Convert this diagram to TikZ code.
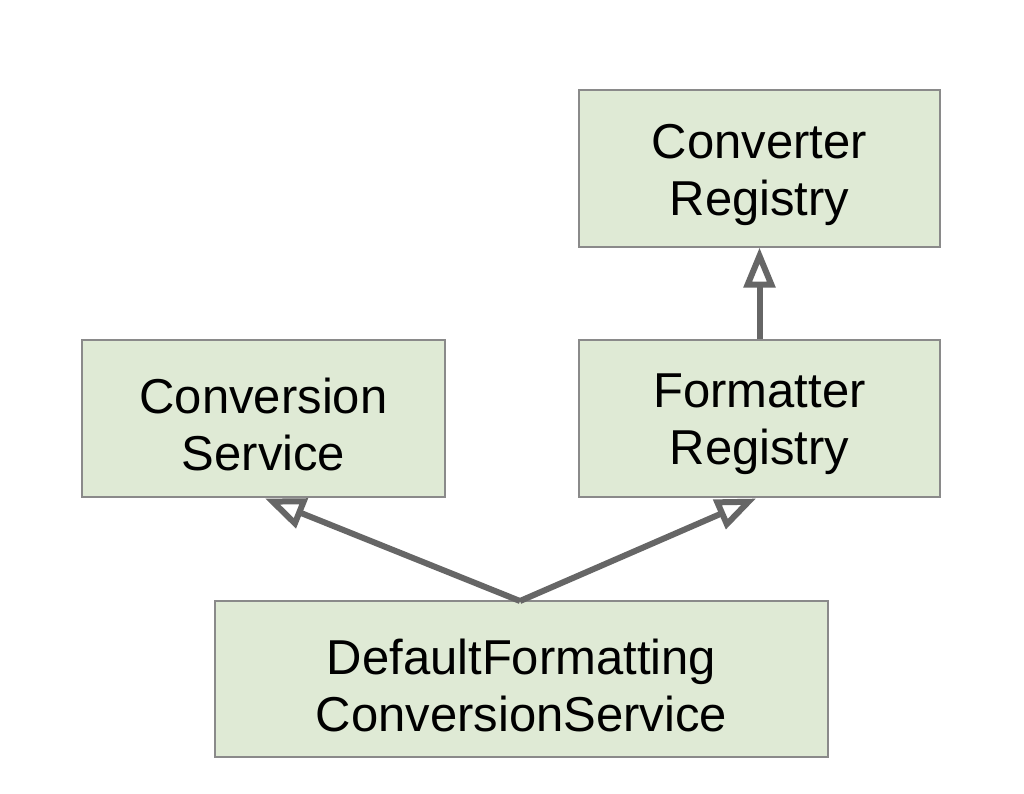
\documentclass[tikz,border=0pt]{standalone}
\usepackage{fontspec}
\setmainfont{Liberation Sans}
\usetikzlibrary{arrows.meta}
\definecolor{boxfill}{HTML}{DFEAD5}
\definecolor{boxline}{HTML}{8A8A8A}
\definecolor{arr}{HTML}{666666}
\tikzset{
  cls/.style={draw=boxline, line width=1.3pt, fill=boxfill, inner sep=0pt},
  txt/.style={label={[align=center, inner sep=0pt, yshift=-6pt, font=\fontsize{49}{57}\selectfont]center:#1}},
  inh/.style={draw=arr, line width=6pt, -{Triangle[open, length=40pt, width=31pt, line width=6pt, fill=white]}}
}
\begin{document}
\begin{tikzpicture}[x=1pt,y=-1pt]
\useasboundingbox (0,0) rectangle (1024,794);
\node[cls, minimum width=361pt, minimum height=157pt, txt={Converter\\Registry}] (cr) at (759.5,168.5) {};
\node[cls, minimum width=363pt, minimum height=157pt, txt={Conversion\\Service}] (cs) at (263.5,418.5) {};
\node[cls, minimum width=361pt, minimum height=157pt, txt={Formatter\\Registry}] (fr) at (759.5,418.5) {};
\node[cls, minimum width=613pt, minimum height=156pt, txt={DefaultFormatting\\ConversionService}] (df) at (521.5,679) {};
\coordinate (dtop) at (520,601);
\draw[inh] (fr.north) -- (cr.south);
\draw[inh] (dtop) -- (265,498.5) coordinate (csend);
\draw[inh] (dtop) -- (756,498.5) coordinate (frend);
\end{tikzpicture}
\end{document}
